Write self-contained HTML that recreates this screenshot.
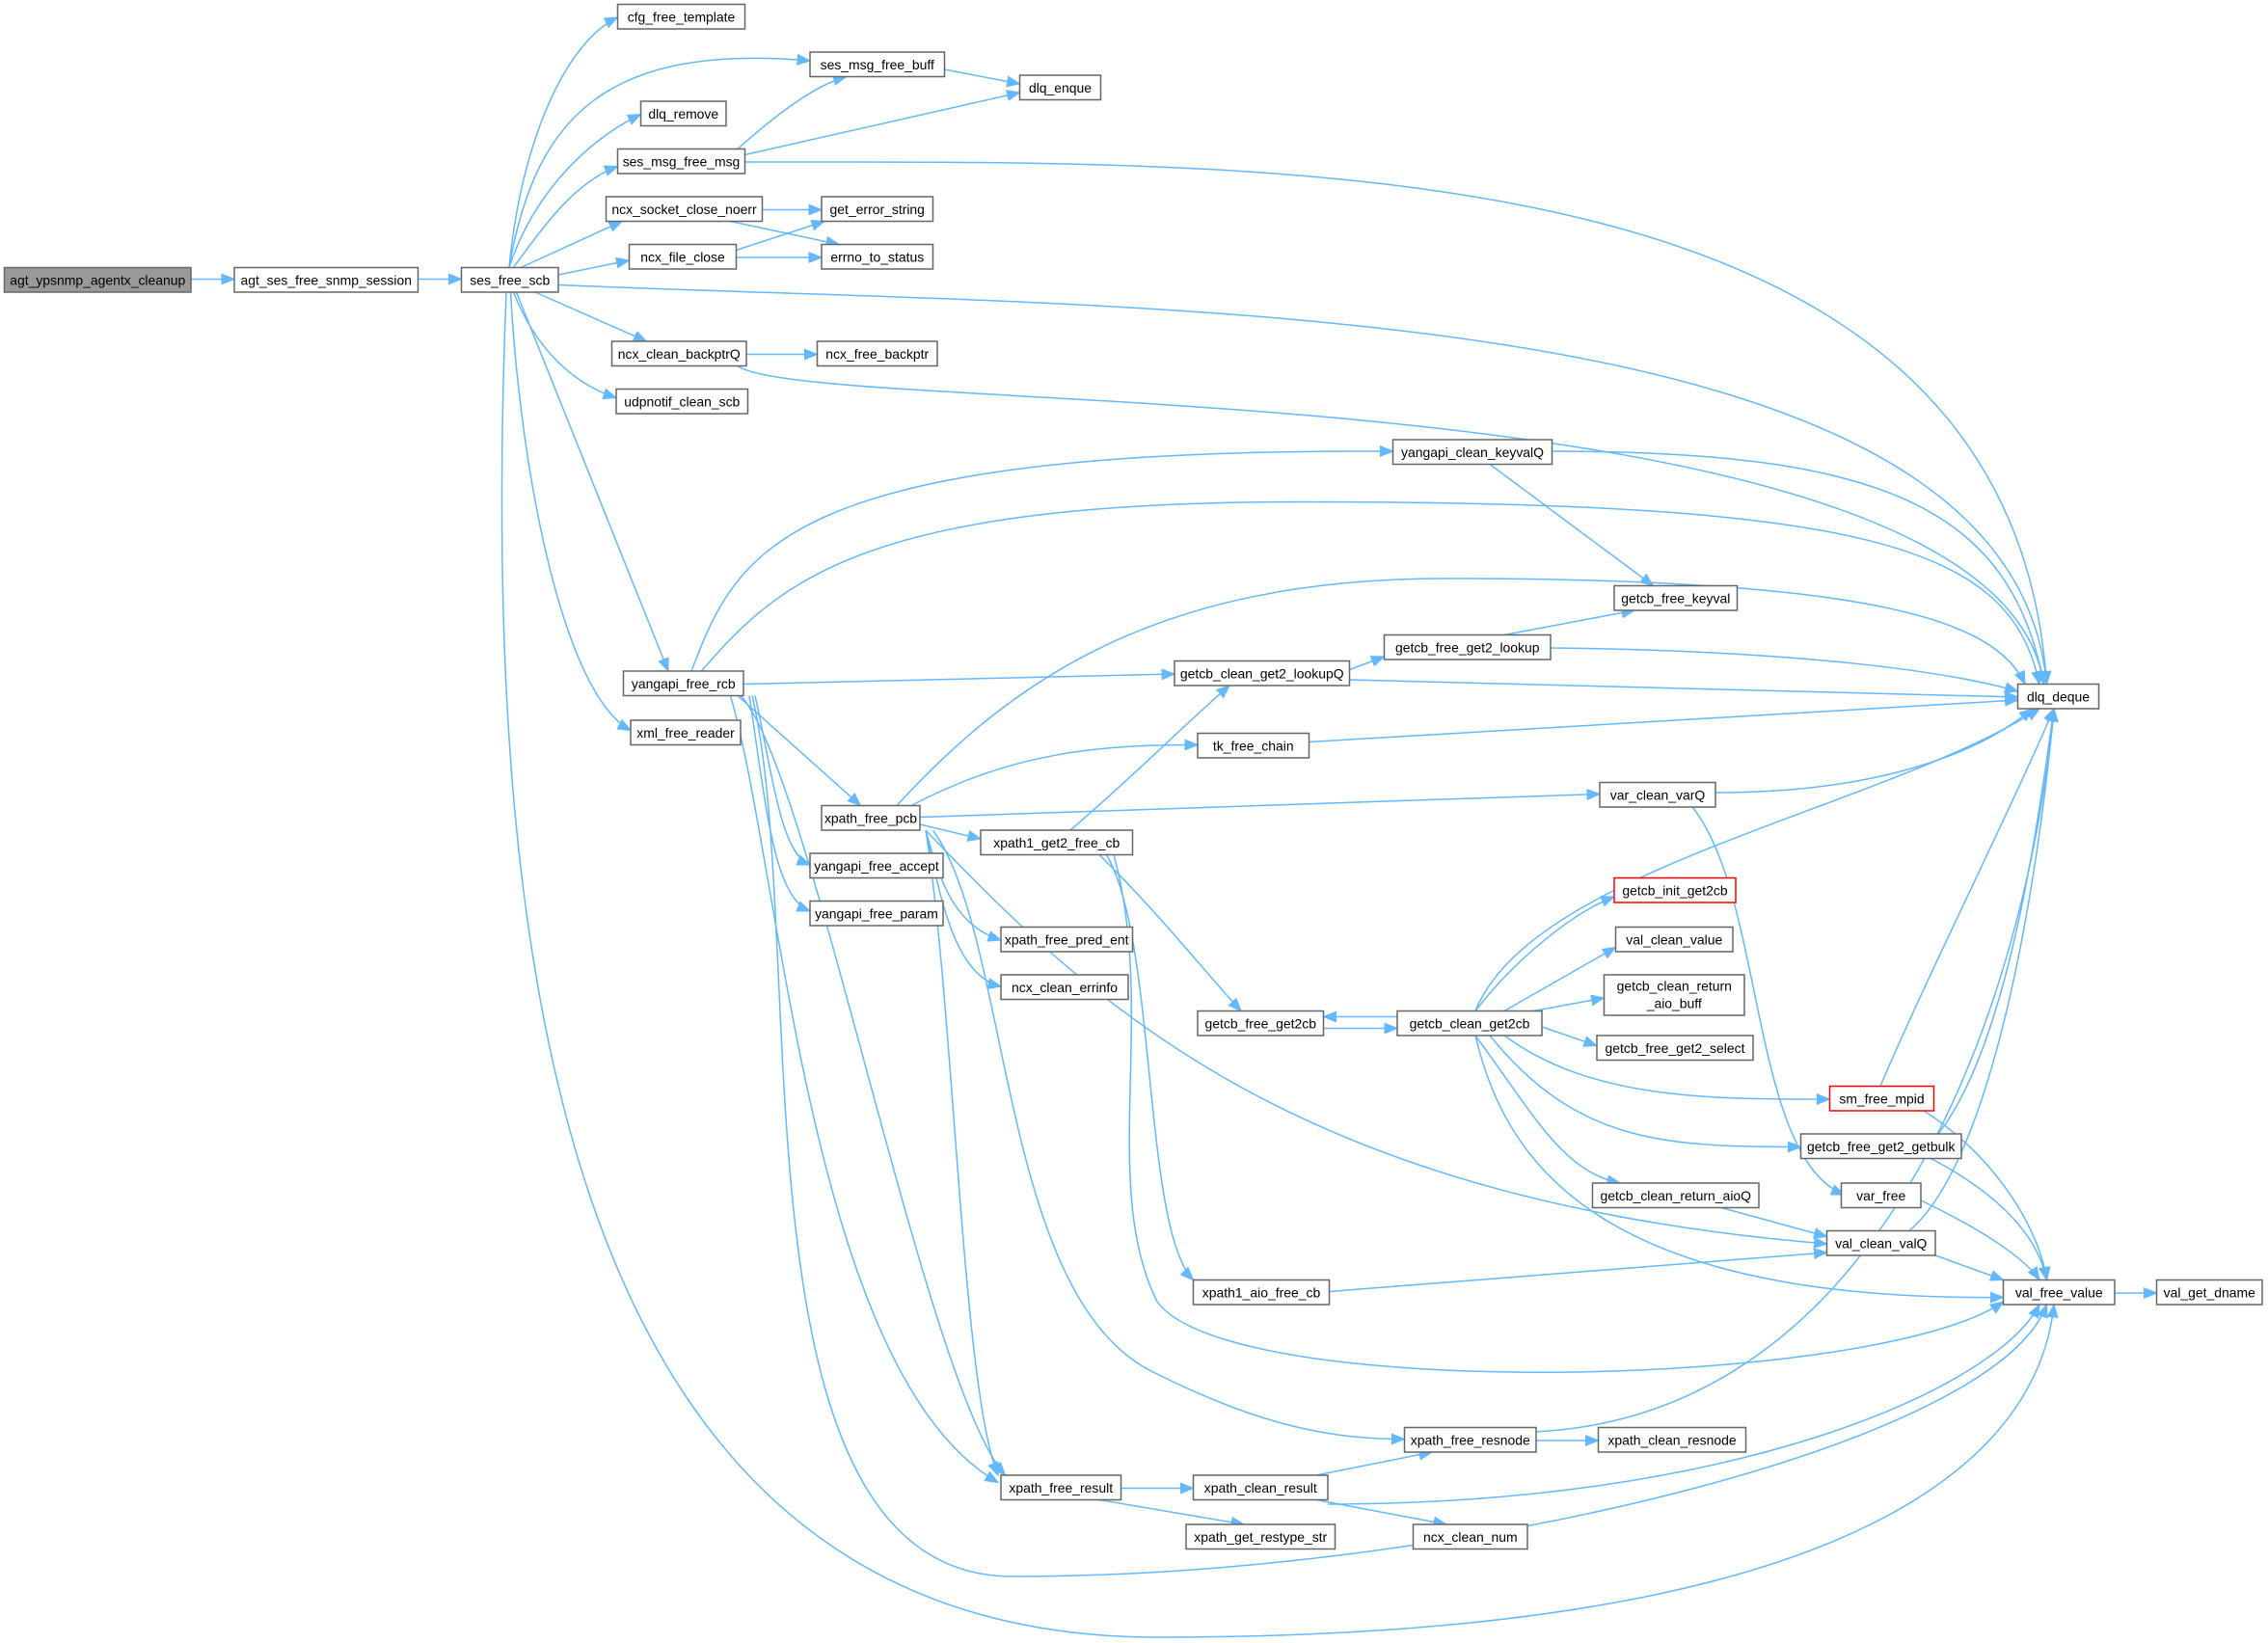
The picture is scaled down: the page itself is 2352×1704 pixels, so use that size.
<!DOCTYPE html>
<html><head><meta charset="utf-8"><style>
html,body{margin:0;padding:0;background:#fff;}
svg{display:block;}
text{font-family:"Liberation Sans",Arial,sans-serif;font-size:9.3px;fill:#000;}
.n{fill:#fff;stroke:#666;stroke-width:1;}
.e{fill:none;stroke:#63b8ff;stroke-width:1;marker-end:url(#a);}
</style></head><body>
<svg width="2352" height="1704" viewBox="0 0 1568 1136" xmlns="http://www.w3.org/2000/svg">
<defs><marker id="a" markerWidth="10" markerHeight="8" refX="9" refY="4" orient="auto" markerUnits="userSpaceOnUse"><path d="M0,0 L10,4 L0,8 z" fill="#63b8ff"/></marker></defs>
<g>
<path class="e" d="M132,193 L162,193"/>
<path class="e" d="M289,193 L319,193"/>
<path class="e" d="M352,185 C360,100 390,30 427,12"/>
<path class="e" d="M352,185 C370,80 420,30 560,42"/>
<path class="e" d="M352,185 C370,130 410,95 443,79"/>
<path class="e" d="M355,185 C380,150 400,125 427,115"/>
<path class="e" d="M360,185 L430,153"/>
<path class="e" d="M386,190 L435,180"/>
<path class="e" d="M386,197 C800,215 1390,200 1415,473"/>
<path class="e" d="M370,202 L447,236"/>
<path class="e" d="M355,202 C370,240 395,265 426,275"/>
<path class="e" d="M357,202 L462,464"/>
<path class="e" d="M353,202 C360,330 390,480 436,505"/>
<path class="e" d="M350,202 C330,700 400,1132 800,1132 C1300,1132 1410,1000 1420,902"/>
<path class="e" d="M653,48 L705,58"/>
<path class="e" d="M510,103 C530,85 560,60 585,53"/>
<path class="e" d="M515,107 L705,64"/>
<path class="e" d="M515,112 C900,112 1390,100 1415,473"/>
<path class="e" d="M527,145 L568,145"/>
<path class="e" d="M505,153 L580,169"/>
<path class="e" d="M509,173 L570,153"/>
<path class="e" d="M509,178 L568,178"/>
<path class="e" d="M516,245 L565,245"/>
<path class="e" d="M510,253 C560,290 1380,250 1413,473"/>
<path class="e" d="M478,464 C510,380 540,310 963,312"/>
<path class="e" d="M485,464 C540,400 600,347 900,347 C1300,347 1390,380 1410,473"/>
<path class="e" d="M514,473 L812,466"/>
<path class="e" d="M510,481 L595,557"/>
<path class="e" d="M512,481 C560,530 640,960 695,1020"/>
<path class="e" d="M505,481 C540,600 560,950 690,1025"/>
<path class="e" d="M522,481 C535,540 540,590 560,598"/>
<path class="e" d="M518,481 C530,560 535,620 560,630"/>
<path class="e" d="M520,481 C560,650 500,1090 700,1090 C1000,1090 1380,1000 1415,902"/>
<path class="e" d="M1073,312 C1300,312 1390,350 1413,473"/>
<path class="e" d="M1030,321 L1143,405"/>
<path class="e" d="M1040,439 L1130,422"/>
<path class="e" d="M1072,448 C1250,450 1350,465 1395,478"/>
<path class="e" d="M933,463 L957,454"/>
<path class="e" d="M933,470 L1395,482"/>
<path class="e" d="M905,513 L1395,484"/>
<path class="e" d="M620,557 C700,470 800,400 1000,400 C1300,400 1380,430 1400,473"/>
<path class="e" d="M630,557 C700,520 760,515 828,515"/>
<path class="e" d="M636,565 L1106,549"/>
<path class="e" d="M636,570 L678,580"/>
<path class="e" d="M640,574 C650,610 660,640 692,650"/>
<path class="e" d="M640,574 C650,620 660,675 692,682"/>
<path class="e" d="M640,574 C660,700 665,960 690,1020"/>
<path class="e" d="M645,574 C700,650 690,900 800,950 C880,990 930,995 971,995"/>
<path class="e" d="M640,574 C760,700 900,830 1263,860"/>
<path class="e" d="M1186,548 C1300,548 1370,520 1405,490"/>
<path class="e" d="M1170,558 C1220,620 1210,800 1275,826"/>
<path class="e" d="M740,574 C780,540 820,500 850,474"/>
<path class="e" d="M760,591 C800,630 840,680 858,699"/>
<path class="e" d="M765,591 C800,650 790,850 825,885"/>
<path class="e" d="M770,591 C800,700 760,820 800,900 C850,970 1300,960 1385,900"/>
<path class="e" d="M1020,699 C1050,660 1090,630 1116,620"/>
<path class="e" d="M1040,699 L1117,655"/>
<path class="e" d="M1060,699 L1109,690"/>
<path class="e" d="M1020,699 C1060,600 1300,560 1410,490"/>
<path class="e" d="M1066,710 L1104,723"/>
<path class="e" d="M1040,716 C1100,760 1180,760 1265,760"/>
<path class="e" d="M1030,716 C1090,790 1150,793 1245,793"/>
<path class="e" d="M1020,716 C1060,770 1080,810 1120,818"/>
<path class="e" d="M1020,716 C1040,800 1100,900 1385,897"/>
<path class="e" d="M966,703 L915,703"/>
<path class="e" d="M915,711 L966,711"/>
<path class="e" d="M1300,751 C1330,680 1390,560 1420,490"/>
<path class="e" d="M1330,768 C1380,800 1410,850 1415,885"/>
<path class="e" d="M1340,784 C1390,720 1410,560 1420,490"/>
<path class="e" d="M1335,801 C1390,830 1410,860 1415,885"/>
<path class="e" d="M1328,830 C1370,850 1400,870 1410,885"/>
<path class="e" d="M1190,835 L1263,855"/>
<path class="e" d="M1320,851 C1380,800 1410,600 1420,490"/>
<path class="e" d="M1338,868 L1385,885"/>
<path class="e" d="M1462,894 L1491,894"/>
<path class="e" d="M919,893 L1263,866"/>
<path class="e" d="M1062,996 L1105,996"/>
<path class="e" d="M775,1029 L825,1029"/>
<path class="e" d="M760,1037 L860,1054"/>
<path class="e" d="M910,1020 L990,1004"/>
<path class="e" d="M910,1037 L1000,1054"/>
<path class="e" d="M918,1040 C1200,1040 1380,960 1410,902"/>
<path class="e" d="M1060,990 C1300,980 1400,700 1420,490"/>
</g>
<g>
<rect x="3" y="185" width="129" height="17" fill="#999" stroke="#666"/><text x="67.5" y="197" text-anchor="middle">agt_ypsnmp_agentx_cleanup</text>
<rect class="n" x="162" y="185" width="127" height="17"/><text x="225.5" y="197" text-anchor="middle">agt_ses_free_snmp_session</text>
<rect class="n" x="319" y="185" width="67" height="17"/><text x="352.5" y="197" text-anchor="middle">ses_free_scb</text>
<rect class="n" x="427" y="3" width="88" height="17"/><text x="471" y="15" text-anchor="middle">cfg_free_template</text>
<rect class="n" x="560" y="36" width="93" height="17"/><text x="606.5" y="48" text-anchor="middle">ses_msg_free_buff</text>
<rect class="n" x="443" y="70" width="59" height="17"/><text x="472.5" y="82" text-anchor="middle">dlq_remove</text>
<rect class="n" x="705" y="52" width="56" height="17"/><text x="733" y="64" text-anchor="middle">dlq_enque</text>
<rect class="n" x="427" y="103" width="88" height="17"/><text x="471" y="115" text-anchor="middle">ses_msg_free_msg</text>
<rect class="n" x="419" y="136" width="108" height="17"/><text x="473" y="148" text-anchor="middle">ncx_socket_close_noerr</text>
<rect class="n" x="568" y="136" width="77" height="17"/><text x="606.5" y="148" text-anchor="middle">get_error_string</text>
<rect class="n" x="435" y="169" width="74" height="17"/><text x="472" y="181" text-anchor="middle">ncx_file_close</text>
<rect class="n" x="568" y="169" width="77" height="17"/><text x="606.5" y="181" text-anchor="middle">errno_to_status</text>
<rect class="n" x="423" y="236" width="93" height="17"/><text x="469.5" y="248" text-anchor="middle">ncx_clean_backptrQ</text>
<rect class="n" x="565" y="236" width="83" height="17"/><text x="606.5" y="248" text-anchor="middle">ncx_free_backptr</text>
<rect class="n" x="426" y="269" width="91" height="17"/><text x="471.5" y="281" text-anchor="middle">udpnotif_clean_scb</text>
<rect class="n" x="1395" y="473" width="56" height="17"/><text x="1423" y="485" text-anchor="middle">dlq_deque</text>
<rect class="n" x="963" y="304" width="110" height="17"/><text x="1018" y="316" text-anchor="middle">yangapi_clean_keyvalQ</text>
<rect class="n" x="1116" y="405" width="85" height="17"/><text x="1158.5" y="417" text-anchor="middle">getcb_free_keyval</text>
<rect class="n" x="957" y="439" width="115" height="17"/><text x="1014.5" y="451" text-anchor="middle">getcb_free_get2_lookup</text>
<rect class="n" x="431" y="464" width="83" height="17"/><text x="472.5" y="476" text-anchor="middle">yangapi_free_rcb</text>
<rect class="n" x="812" y="457" width="121" height="17"/><text x="872.5" y="469" text-anchor="middle">getcb_clean_get2_lookupQ</text>
<rect class="n" x="436" y="498" width="76" height="17"/><text x="474" y="510" text-anchor="middle">xml_free_reader</text>
<rect class="n" x="828" y="507" width="77" height="17"/><text x="866.5" y="519" text-anchor="middle">tk_free_chain</text>
<rect class="n" x="568" y="557" width="68" height="17"/><text x="602" y="569" text-anchor="middle">xpath_free_pcb</text>
<rect class="n" x="1106" y="541" width="80" height="17"/><text x="1146" y="553" text-anchor="middle">var_clean_varQ</text>
<rect class="n" x="678" y="574" width="105" height="17"/><text x="730.5" y="586" text-anchor="middle">xpath1_get2_free_cb</text>
<rect class="n" x="560" y="590" width="92" height="17"/><text x="606" y="602" text-anchor="middle">yangapi_free_accept</text>
<rect x="1116" y="607" width="84" height="17" fill="#fff" stroke="#f00"/><text x="1158" y="619" text-anchor="middle">getcb_init_get2cb</text>
<rect class="n" x="560" y="623" width="92" height="17"/><text x="606" y="635" text-anchor="middle">yangapi_free_param</text>
<rect class="n" x="692" y="641" width="91" height="17"/><text x="737.5" y="653" text-anchor="middle">xpath_free_pred_ent</text>
<rect class="n" x="1117" y="641" width="81" height="17"/><text x="1157.5" y="653" text-anchor="middle">val_clean_value</text>
<rect class="n" x="692" y="674" width="88" height="17"/><text x="736" y="686" text-anchor="middle">ncx_clean_errinfo</text>
<rect class="n" x="1109" y="674" width="97" height="28"/><text x="1157.5" y="685" text-anchor="middle">getcb_clean_return</text><text x="1157.5" y="697" text-anchor="middle">_aio_buff</text>
<rect class="n" x="828" y="699" width="87" height="17"/><text x="871.5" y="711" text-anchor="middle">getcb_free_get2cb</text>
<rect class="n" x="966" y="699" width="100" height="17"/><text x="1016" y="711" text-anchor="middle">getcb_clean_get2cb</text>
<rect class="n" x="1104" y="716" width="108" height="17"/><text x="1158" y="728" text-anchor="middle">getcb_free_get2_select</text>
<rect x="1265" y="751" width="72" height="17" fill="#fff" stroke="#f00"/><text x="1301" y="763" text-anchor="middle">sm_free_mpid</text>
<rect class="n" x="1245" y="784" width="111" height="17"/><text x="1300.5" y="796" text-anchor="middle">getcb_free_get2_getbulk</text>
<rect class="n" x="1273" y="818" width="55" height="17"/><text x="1300.5" y="830" text-anchor="middle">var_free</text>
<rect class="n" x="1101" y="818" width="115" height="17"/><text x="1158.5" y="830" text-anchor="middle">getcb_clean_return_aioQ</text>
<rect class="n" x="1263" y="851" width="75" height="17"/><text x="1300.5" y="863" text-anchor="middle">val_clean_valQ</text>
<rect class="n" x="825" y="885" width="94" height="17"/><text x="872" y="897" text-anchor="middle">xpath1_aio_free_cb</text>
<rect class="n" x="1385" y="885" width="77" height="17"/><text x="1423.5" y="897" text-anchor="middle">val_free_value</text>
<rect class="n" x="1491" y="885" width="73" height="17"/><text x="1527.5" y="897" text-anchor="middle">val_get_dname</text>
<rect class="n" x="971" y="987" width="91" height="17"/><text x="1016.5" y="999" text-anchor="middle">xpath_free_resnode</text>
<rect class="n" x="1105" y="987" width="102" height="17"/><text x="1156" y="999" text-anchor="middle">xpath_clean_resnode</text>
<rect class="n" x="692" y="1020" width="83" height="17"/><text x="733.5" y="1032" text-anchor="middle">xpath_free_result</text>
<rect class="n" x="825" y="1020" width="93" height="17"/><text x="871.5" y="1032" text-anchor="middle">xpath_clean_result</text>
<rect class="n" x="820" y="1054" width="103" height="17"/><text x="871.5" y="1066" text-anchor="middle">xpath_get_restype_str</text>
<rect class="n" x="977" y="1054" width="79" height="17"/><text x="1016.5" y="1066" text-anchor="middle">ncx_clean_num</text>
</g>
</svg>
</body></html>
